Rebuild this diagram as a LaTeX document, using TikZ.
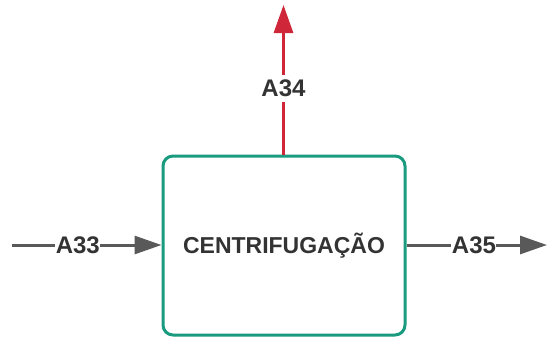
\documentclass[tikz,border=0pt]{standalone}
\usepackage{fontspec}
\setmainfont{Liberation Sans}
\usetikzlibrary{arrows.meta}

\definecolor{boxgreen}{HTML}{1A9A7E}
\definecolor{flowgray}{HTML}{595959}
\definecolor{flowred}{HTML}{D0263A}
\definecolor{txtgray}{HTML}{333333}

\tikzset{
  process/.style={draw=boxgreen, line width=3pt, rounded corners=10pt, fill=white,
    minimum width=242pt, minimum height=179pt, font=\fontsize{23}{26}\selectfont\bfseries,
    text=txtgray},
  flow/.style={draw=flowgray, line width=3pt, -{Triangle[length=27pt,width=18pt]}},
  waste/.style={draw=flowred, line width=3pt, -{Triangle[length=28pt,width=19pt]}},
  lbl/.style={fill=white, inner xsep=0.5pt, inner ysep=5pt, text=txtgray,
    font=\fontsize{24}{27}\selectfont\bfseries}
}

\begin{document}
\begin{tikzpicture}[x=1pt, y=-1pt]
                    \useasboundingbox (0,0) rectangle (547,338);

                    \node[process] (cent) at (284, 245.5) {CENTRIFUGAÇÃO};

                    \coordinate (in33) at (12, 245);
                    \coordinate (out35) at (547, 245);
                    \coordinate (out34) at (283.5, 5);

                    \draw[flow] (in33) -- node[lbl, pos=0.44] {A33} (cent.west |- in33);
                    \draw[flow] (cent.east |- out35) -- node[lbl, pos=0.48] {A35} (out35);
                    \draw[waste] (cent.north -| out34) -- node[lbl, pos=0.44] {A34} (out34);
                \end{tikzpicture}
\end{document}
